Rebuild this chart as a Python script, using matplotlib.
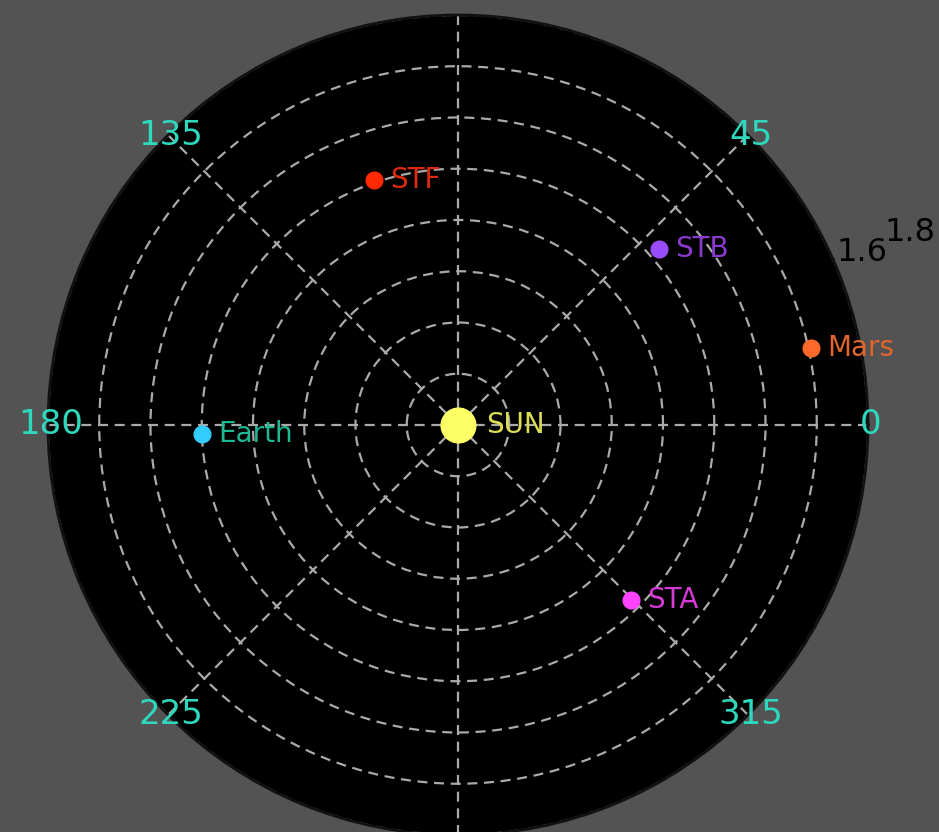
import numpy as np
import matplotlib
matplotlib.use("Agg")
import matplotlib.pyplot as plt

# Body positions (heliocentric distance in AU, longitude in degrees)
bodies = ["SUN", "Earth", "STF", "STB", "Mars", "STA"]
radius = [0.0, 1.00, 1.01, 1.04, 1.41, 0.96]
longitude = [0.0, 182.0, 109.0, 41.2, 12.3, 314.6]
marker_colors = ["#ffff66", "#33ccff", "#ff2a00", "#9a4dff", "#ff6a2a", "#ff44ff"]
text_colors = ["#dede55", "#1fb895", "#e02a10", "#8b3ad0", "#e0662e", "#d83ad8"]
marker_sizes = [25, 12, 12, 12, 12, 12]

theta_ticks = [0, 45, 90, 135, 180, 225, 270, 315]
theta_labels = ["0", "45", "", "135", "180", "225", "", "315"]  # 90/270 fall off the canvas
r_ticks = [0.2, 0.4, 0.6, 0.8, 1.0, 1.2, 1.4, 1.6]
r_max = 1.6

fig = plt.figure(figsize=(9.39, 8.32), dpi=100, facecolor="#535353")
ax = fig.add_axes([0.0511, -0.0036, 0.8733, 0.9856], projection="polar")
ax.set_facecolor("black")
ax.spines["polar"].set_color("#111111")
ax.spines["polar"].set_linewidth(2)

grid_style = dict(color="#aaaaaa", linewidth=1.6, linestyle=(0, (4.5, 3)))
ax.set_rlim(0, r_max)
ax.set_rgrids(r_ticks, labels=[f"{r:g}" for r in r_ticks], angle=22.5,
              color="black", fontsize=23)
ax.set_thetagrids(theta_ticks, labels=[""] * len(theta_ticks))
ax.grid(True, **grid_style)

# theta labels sit right on the outer edge
for t, lab in zip(theta_ticks, theta_labels):
    if lab:
        ax.annotate(lab, (np.radians(t), r_max), xytext=(2.2, 0),
                    textcoords="offset points", color="#2ed8bd", fontsize=24.5,
                    ha="center", va="center", annotation_clip=False)

# radial label beyond the frame
ax.text(np.radians(22.5), 1.8, "1.8", color="black", fontsize=23,
        ha="left", va="bottom", clip_on=False)

for name, r, lon, mc, tc, ms in zip(bodies, radius, longitude,
                                    marker_colors, text_colors, marker_sizes):
    th = np.radians(lon)
    ax.plot([th], [r], "o", color=mc, markersize=ms, zorder=5)
    off = 20 if name == "SUN" else 12
    ax.annotate(name, (th, r), xytext=(off, 0), textcoords="offset points",
                color=tc, fontsize=20, ha="left", va="center", zorder=6)

fig.savefig("out.png", dpi=100, facecolor=fig.get_facecolor())
